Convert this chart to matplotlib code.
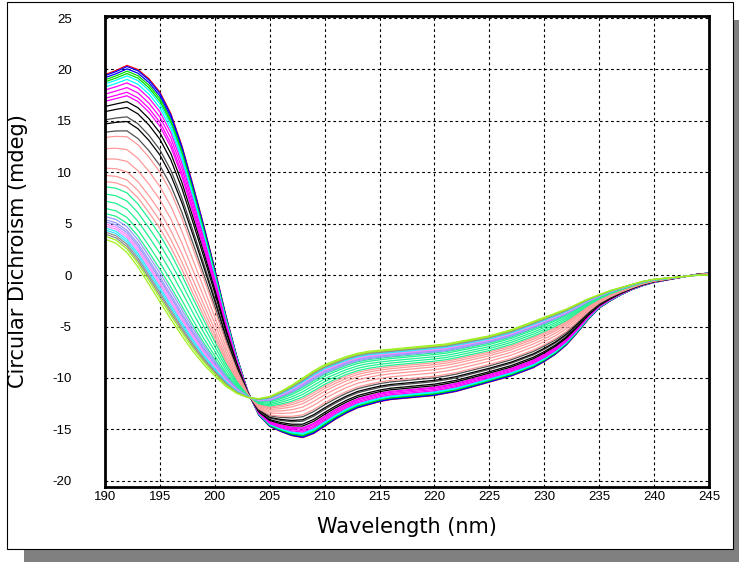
""" CD melt spectra, redrawn from a screenshot of the instrument software."""

import numpy as np
import matplotlib
matplotlib.use('Agg')
from matplotlib import pyplot as plt
from matplotlib.patches import Rectangle

# Wavelength axis, 1 nm steps as in the scan
WAVELENGTH = list(range(190, 246))

# Most folded trace (red), mdeg
FOLDED = [19.5, 19.9, 20.4, 20.0, 19.1, 17.8, 15.7, 12.6, 8.8, 4.8,
          0.6, -3.9, -7.9, -11.3, -13.6, -14.7, -15.2, -15.6, -15.8, -15.4,
          -14.7, -14.0, -13.4, -12.9, -12.6, -12.3, -12.1, -12.0, -11.9, -11.8,
          -11.7, -11.5, -11.3, -11.0, -10.7, -10.4, -10.1, -9.8, -9.4, -9.0,
          -8.4, -7.7, -6.8, -5.6, -4.3, -3.2, -2.5, -1.9, -1.4, -1.0,
          -0.7, -0.5, -0.3, -0.1, 0.1, 0.2]

# Most unfolded trace (yellow-green), mdeg
UNFOLDED = [3.5, 3.1, 2.2, 0.8, -0.9, -2.6, -4.3, -5.9, -7.4, -8.7,
            -9.8, -10.8, -11.5, -11.9, -12.0, -11.8, -11.3, -10.7, -10.0, -9.3,
            -8.7, -8.3, -7.9, -7.6, -7.4, -7.3, -7.2, -7.1, -7.0, -6.9,
            -6.8, -6.7, -6.5, -6.3, -6.1, -5.9, -5.6, -5.3, -4.9, -4.5,
            -4.1, -3.7, -3.3, -2.8, -2.3, -1.9, -1.5, -1.2, -0.9, -0.6,
            -0.4, -0.3, -0.2, -0.1, 0.0, 0.0]

TRACE_CD190 = [19.5, 19.4, 19.2, 19.0, 18.8, 18.6, 18.3, 18.0, 17.6, 17.2, 16.9,
               16.4, 15.9, 15.1, 14.7, 13.9,
               13.4, 12.3, 11.3, 10.4, 9.7, 9.1,
               8.6, 7.9, 7.2, 6.5, 6.0,
               5.7, 5.4, 5.2, 5.0, 4.8, 4.6, 4.4, 4.2, 4.0, 3.8, 3.5]
TRACE_COLOURS = ['#ff0000', '#0000ff', '#0000ff', '#00e000', '#00e000', '#00ffff',
                 '#00ffff', '#ff00ff', '#ff00ff', '#ff00ff', '#ff00ff',
                 '#000000', '#000000', '#505050', '#000000', '#505050',
                 '#ff9999', '#ff9999', '#ff9999', '#ff9999', '#ff9999', '#ff9999',
                 '#20f090', '#20f090', '#20f090', '#20f090', '#20f090',
                 '#9999ff', '#9999ff', '#9999ff', '#ff88ff', '#ff88ff',
                 '#30e8ff', '#30e8ff', '#909090', '#909090', '#a0f020', '#a0f020']

X_TICKS = list(range(190, 250, 5))
Y_TICKS = list(range(-20, 30, 5))


def main():
    plt.rcParams['axes.unicode_minus'] = False

    wl = np.array(WAVELENGTH)
    folded = np.array(FOLDED)
    unfolded = np.array(UNFOLDED)

    W, H = 739, 562
    fig = plt.figure(figsize=(W / 100, H / 100), dpi=100)

    # Drop shadow and white panel behind the plot
    fig.add_artist(Rectangle((24 / W, 0), 1.0, 1 - 20 / H, transform=fig.transFigure,
                             facecolor='#808080', edgecolor='none', zorder=-3))
    fig.add_artist(Rectangle((7 / W, 1 - 549 / H), 726 / W, 547 / H, transform=fig.transFigure,
                             facecolor='white', edgecolor='black', linewidth=0.8, zorder=-2))

    ax = fig.add_axes([105 / W, 1 - 487 / H, 604 / W, 471 / H])
    ax.set_facecolor('white')

    # Each trace sits between the two end spectra, placed by its 190 nm value
    span = folded[0] - unfolded[0]
    for cd190, colour in zip(TRACE_CD190, TRACE_COLOURS):
        frac = (folded[0] - cd190) / span
        ax.plot(wl, folded + frac * (unfolded - folded), color=colour, linewidth=0.9)

    ax.set_xlim(190, 245)
    ax.set_ylim(-20.6, 25.2)
    ax.set_xticks(X_TICKS)
    ax.set_yticks(Y_TICKS)
    ax.set_axisbelow(True)
    ax.grid(True, color='black', linestyle=(0, (2.5, 2.5)), linewidth=0.8)
    for side in ax.spines.values():
        side.set_linewidth(2.0)

    ax.tick_params(axis='both', length=0, labelsize=9.5)
    ax.tick_params(axis='y', pad=24)
    ax.tick_params(axis='x', pad=3)
    for lab in ax.get_xticklabels() + ax.get_yticklabels():
        lab.set_family(['Liberation Sans', 'DejaVu Sans'])

    ax.set_xlabel('Wavelength (nm)', fontsize=15, family='DejaVu Sans')
    ax.set_ylabel('Circular Dichroism (mdeg)', fontsize=15, family='DejaVu Sans')
    ax.xaxis.set_label_coords(0.5, -0.064)
    ax.yaxis.set_label_coords(-0.127, 0.5)

    fig.savefig('out.png', dpi=100, facecolor='white')


if __name__ == '__main__':
    main()
